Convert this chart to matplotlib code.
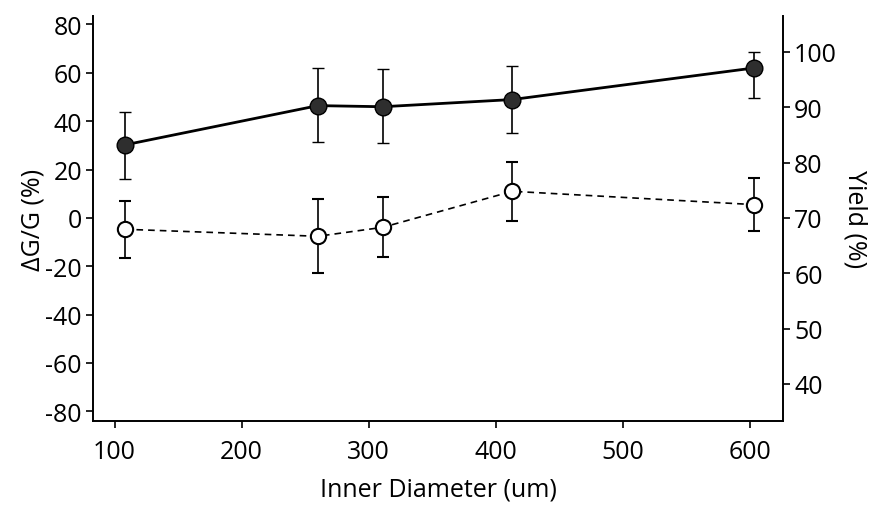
import matplotlib.pyplot as plt

# Data
inner_diameter = [108, 260, 311, 413, 603]

# Yield (%) - filled markers, solid line, right axis
yield_pct = [83.2, 90.3, 90.1, 91.4, 97.1]
yield_err_lo = [6.2, 6.6, 6.5, 6.0, 5.4]
yield_err_hi = [5.9, 6.8, 6.8, 6.1, 2.9]

# Delta G/G (%) - open markers, dashed line, left axis
dgg = [-4.7, -7.6, -3.9, 11.0, 5.5]
dgg_err = [11.8, 15.3, 12.4, 12.1, 11.0]

left_ticks = [-80, -60, -40, -20, 0, 20, 40, 60, 80]
right_ticks = [40, 50, 60, 70, 80, 90, 100]
x_ticks = [100, 200, 300, 400, 500, 600]

plt.rcParams['font.family'] = ['Open Sans', 'DejaVu Sans']
plt.rcParams['font.size'] = 18
plt.rcParams['axes.unicode_minus'] = False

fig = plt.figure(figsize=(8.74, 5.10), dpi=100)
ax = fig.add_axes([0.1064, 0.1725, 0.7895, 0.7942])
ax2 = ax.twinx()

# open markers, dashed line (left axis)
ax.errorbar(inner_diameter, dgg, yerr=dgg_err, fmt='o', color='black',
            markerfacecolor='white', markeredgecolor='black', markersize=11,
            markeredgewidth=1.5, ecolor='black', elinewidth=1.2, capsize=4.5,
            capthick=1.2, zorder=3)
ax.plot(inner_diameter, dgg, linestyle=(0, (4, 3)), color='black', linewidth=1.2, zorder=2)

# filled markers, solid line (right axis)
ax2.errorbar(inner_diameter, yield_pct, yerr=[yield_err_lo, yield_err_hi], fmt='o',
             color='#333333', markerfacecolor='#2e2e2e', markeredgecolor='black',
             markersize=12, markeredgewidth=1.0, ecolor='black', elinewidth=1.2,
             capsize=4.5, capthick=1.2, zorder=3)
ax2.plot(inner_diameter, yield_pct, linestyle='-', color='black', linewidth=2.0, zorder=2)

ax.set_xlim(83, 626)
ax.set_ylim(-84, 83.5)
ax2.set_ylim(33.3, 106.5)

ax.set_xticks(x_ticks)
ax.set_yticks(left_ticks)
ax2.set_yticks(right_ticks)

for a in (ax, ax2):
    a.spines['top'].set_visible(False)
    for s in a.spines.values():
        s.set_linewidth(1.4)
    a.tick_params(direction='out', length=5, width=1.2, pad=3)
ax.tick_params(axis='x', pad=8)
ax.spines['right'].set_visible(False)
ax2.spines['left'].set_visible(False)
ax2.spines['bottom'].set_visible(False)

ax.set_xlabel('Inner Diameter (um)', labelpad=9)
ax.set_ylabel('\u0394G/G (%)', labelpad=0)
ax2.set_ylabel('Yield (%)', rotation=-90, labelpad=22)

fig.savefig('out.png', dpi=100)
